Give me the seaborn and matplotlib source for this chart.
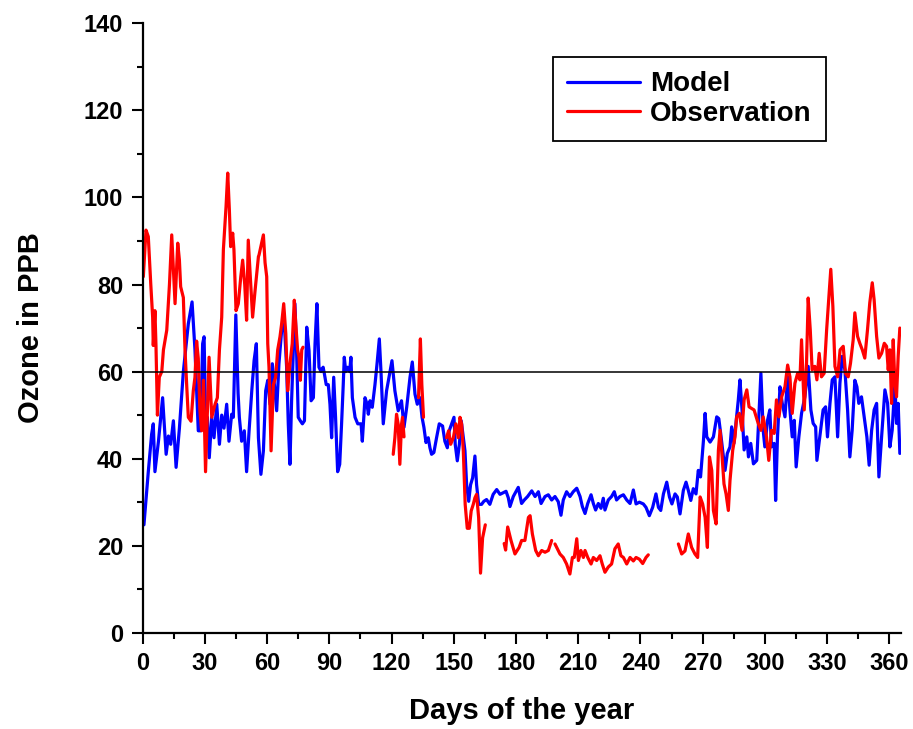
import numpy as np
import pandas as pd
import matplotlib
matplotlib.use('Agg')
import matplotlib.pyplot as plt
import seaborn as sns
from matplotlib.ticker import MultipleLocator
from matplotlib.lines import Line2D

# Model ozone (day of year, ppb)
model_day = [0.6, 2.7, 4.3, 5.1, 5.9, 7.6, 9.6, 11.3, 12.4, 13.5, 14.8, 16.1, 17.7, 19.6, 22.0, 23.8,
             25.2, 26.8, 27.9, 28.9, 29.6, 30.5, 31.2, 32.1, 33.3, 34.4, 35.7, 37.0, 38.1, 39.2, 40.5,
             41.6, 42.9, 43.7, 44.9, 46.0, 46.6, 47.7, 49.0, 50.1, 51.3, 52.6, 53.7, 54.8, 55.8, 57.0,
             58.2, 59.3, 60.3, 61.4, 62.5, 63.5, 64.6, 65.7, 67.0, 68.3, 69.4, 70.2, 71.0, 71.8, 72.6,
             73.4, 74.2, 75.0, 76.0, 77.0, 78.0, 79.1, 80.2, 81.2, 82.3, 83.1, 84.0, 85.0, 86.0, 87.0,
             87.6, 88.5, 89.5, 90.3, 91.1, 92.1, 93.0, 94.0, 95.0, 95.9, 96.7, 97.2, 97.9, 98.8, 99.8,
             100.4, 101.1, 102.4, 103.7, 105.3, 105.9, 107.2, 108.2, 108.8, 109.6, 110.7, 112.0, 113.0,
             114.1, 114.9, 116.0, 117.6, 120.2, 121.6, 123.2, 124.8, 126.0, 127.3, 128.9, 130.0, 131.3,
             132.4, 133.7, 134.7, 135.6, 136.6, 137.7, 138.5, 139.3, 140.4, 141.7, 143.0, 144.6, 145.7,
             146.9, 147.8, 149.0, 150.1, 150.7, 151.7, 152.7, 153.6, 154.6, 155.4, 156.2, 157.2, 158.1,
             159.1, 160.2, 161.0, 162.0, 163.4, 164.5, 165.8, 167.4, 169.0, 170.7, 172.3, 173.9, 175.2,
             176.3, 177.1, 178.7, 181.1, 182.7, 184.0, 185.6, 187.6, 189.2, 190.8, 192.1, 194.0, 195.6,
             197.2, 198.8, 200.4, 201.7, 202.8, 204.4, 206.0, 207.6, 209.3, 210.9, 212.0, 213.3, 214.6,
             216.2, 217.3, 218.4, 219.7, 221.0, 222.1, 222.9, 224.5, 226.1, 227.4, 228.5, 230.1, 231.8,
             233.4, 235.0, 236.6, 237.9, 239.5, 241.4, 242.7, 244.3, 245.9, 247.5, 248.7, 249.8, 251.1,
             252.7, 254.0, 255.2, 256.7, 257.8, 259.1, 260.7, 262.0, 263.1, 264.3, 265.5, 266.8, 267.9,
             269.0, 270.4, 271.2, 272.0, 273.6, 275.2, 276.8, 277.8, 278.7, 280.0, 280.8, 281.9, 283.2,
             284.0, 285.1, 286.4, 287.2, 288.0, 289.0, 290.0, 291.3, 292.1, 293.2, 294.5, 296.1, 296.8,
             298.1, 299.2, 300.0, 301.3, 302.4, 303.2, 304.5, 305.2, 306.1, 307.3, 308.4, 309.7, 311.0,
             312.1, 313.2, 314.2, 315.1, 316.4, 317.7, 319.3, 320.9, 322.2, 323.3, 324.5, 325.1, 326.5,
             328.1, 329.3, 330.2, 331.4, 332.5, 333.8, 335.1, 336.2, 337.3, 338.6, 339.9, 341.0, 342.1,
             343.4, 344.4, 345.3, 346.6, 347.9, 349.2, 350.3, 351.5, 352.7, 353.9, 355.0, 356.3, 357.9,
             359.2, 360.3, 361.4, 362.7, 363.5, 364.3, 365.1]
model_ppb = [24.8, 37, 45.6, 48, 37, 44, 54, 41, 45.2, 43.3, 48.7, 38, 47, 60, 71, 76,
             65, 46.4, 46.4, 66.4, 68, 44.8, 49.5, 40.2, 49.5, 44.8, 52.5, 43.3, 50, 47, 52.5,
             44, 50.2, 49.5, 73, 55, 49.5, 44, 46.4, 37, 46.4, 55.6, 62.5, 66.4, 44.8, 36.4,
             41.8, 55.6, 58, 52.5, 61.8, 57, 51, 61.8, 69.5, 71, 61, 48, 38.7, 53.3, 64.8,
             75.6, 64.8, 49.5, 48.7, 48, 48.7, 70.2, 64.8, 53.3, 54, 66.4, 75.6, 61, 60, 61,
             59.5, 57, 57, 52.5, 44.8, 58.7, 49.5, 37, 38.7, 48, 57, 63.3, 60, 61, 60,
             63.3, 54, 49.5, 48, 48, 44, 54, 52.5, 50.2, 53.3, 51.8, 57, 61.8,
             67.5, 60, 48, 55.6, 62.5, 55.6, 51, 53.3, 47.2, 51.8, 58.7, 62.2, 54.8,
             52.5, 54, 49.5, 47.2, 43.7, 44.8, 42.5, 41, 41.4, 44.8, 48, 47.5, 44,
             42.5, 46.4, 48, 49.5, 43.3, 39.5, 43.3, 48.7, 44.8, 41.8, 34, 30.2, 34,
             35.6, 40.6, 34, 29.5, 29.5, 30.2, 30.6, 29.5, 31.8, 32.9, 31.8, 32.2, 32.5,
             31, 29, 31.3, 33.4, 29.7, 30.5, 31.3, 32.6, 31.3, 32.4, 29.7, 31.3, 31.7,
             30.5, 31.3, 30.1, 27, 30.5, 32.4, 31.3, 32.4, 33.2, 31.3, 29, 27.4, 29.7,
             31.7, 29.7, 28.2, 29.7, 28.6, 30.9, 28.2, 30.5, 31.3, 32.4, 30.5, 31.3, 31.7,
             30.5, 29.7, 32.8, 29.6, 30, 29.6, 28.8, 26.9, 28.8, 31.9, 28.8, 28.1, 31.9,
             34.6, 31.2, 29.6, 31.9, 31.2, 27.3, 32.7, 34.6, 32.7, 30.4, 33.1, 31.9, 37.3,
             35.8, 44.2, 50.4, 45, 43.8, 45, 49.6, 49.2, 45.8, 40.4, 37.3, 41.2, 42.7,
             47.3, 43.5, 49.6, 53.5, 58.1, 51.2, 42, 45, 40.4, 43.5, 38.8, 39.6, 46.5,
             59.6, 46.5, 42.7, 48.8, 51.2, 42.7, 43.5, 30.4, 45, 56.5, 52.7, 49.6, 58.8,
             51.2, 45, 48.8, 38.1, 45, 50.4, 54.2, 61.2, 51.2, 48.1, 47.3, 39.6, 45,
             51.2, 51.9, 45, 52.7, 58.1, 58.8, 45, 57.3, 63.5, 60.4, 51.2, 40.4, 46.5,
             58, 56.5, 52.7, 54.2, 49.6, 45, 38.5, 46.5, 51.2, 52.7, 35.8, 45, 55.8,
             52.7, 42.7, 46.5, 57.3, 48.1, 52.7, 41.2]

# Observed ozone, split into the stretches with data
obs_segments = [
    ([0.3, 1.6, 2.7, 3.9, 4.8, 5.1, 5.9, 6.4, 7.1, 8.0, 9.2, 10.0, 11.6, 12.9, 14.0, 15.6, 16.9,
      17.7, 18.3, 19.6, 20.4, 21.2, 22.0, 23.3, 24.4, 25.2, 26.0, 26.8, 27.6, 28.4, 29.3, 30.3,
      32.0, 33.3, 34.9, 36.0, 37.0, 38.1, 38.9, 40.2, 41.0, 41.8, 42.4, 43.4, 44.0, 45.0, 46.1,
      47.3, 48.2, 49.2, 50.1, 50.9, 52.1, 53.0, 54.2, 55.8, 56.1, 58.2, 59.0, 59.8, 60.3, 60.9,
      61.9, 63.0, 64.1, 65.1, 66.2, 67.0, 68.0, 69.0, 69.9, 71.0, 72.1, 73.1, 73.8, 74.7, 75.4,
      76.0, 76.7, 77.3],
     [81.8, 92.5, 91, 80, 72.5, 66, 74, 66, 50, 58.7, 60, 65, 69.5, 80, 91.4, 75.6, 89.5,
      85.6, 79.5, 77, 65, 57, 49.5, 48.6, 55.6, 58.7, 67, 63, 51, 46.4, 58, 37,
      63.3, 49.5, 52.5, 54, 65, 72.5, 88, 98, 105.6, 97, 88.7, 91.8, 88, 74, 75.6,
      81.8, 85.6, 80, 71.8, 90.2, 80, 72.5, 78.7, 86.4, 86.8, 91.4, 85, 81.8, 66.4, 61,
      41.8, 57, 58.7, 65, 68, 71, 75.6, 68.7, 55.6, 61.8, 66.4, 76.4, 71, 65, 63.3,
      58, 65, 65.6]),
    ([120.8, 121.6, 122.4, 123.2, 124.0, 124.8, 125.3, 126.0],
     [41, 44.8, 50.2, 47.9, 38.7, 47.9, 49.5, 45]),
    ([133.0, 133.9, 134.6, 135.4],
     [54, 67.5, 57, 49.5]),
    ([146.5, 147.5, 148.5, 149.8, 151.0, 152.2, 153.0, 153.8, 154.6, 155.5, 156.5, 157.5, 158.4,
      159.4, 160.2, 161.0, 162.0, 162.9, 163.9, 165.2],
     [44.8, 46.4, 43.3, 44.8, 48, 44.8, 49.5, 47.9, 41.8, 29.5, 24, 24, 28,
      29.5, 31, 31.8, 26.4, 13.7, 21.8, 24.8]),
    ([174.3, 175.0, 176.0, 177.6, 179.5, 181.5, 182.7, 184.3, 186.0, 186.8, 187.9, 189.5, 190.8,
      192.4, 194.0, 195.6, 197.2],
     [20.5, 19, 24.3, 21.2, 18.1, 19.6, 21.2, 21.2, 26.5, 26.9, 22.7, 18.9, 17.7,
      18.9, 18.5, 18.9, 21.2]),
    ([198.8, 201.2, 202.8, 204.4, 206.0, 207.2, 208.1, 209.3, 210.1, 211.3, 212.5, 213.3, 214.6,
      216.2, 217.3, 218.9, 220.5, 221.6, 222.9, 224.5, 226.1, 227.7, 229.3, 230.6, 231.8, 233.4,
      235.0, 236.6, 237.9, 239.5, 241.1, 242.7, 243.8],
     [20.4, 18.1, 17.3, 15.8, 13.5, 17.3, 17.3, 21.6, 16.6, 18.9, 17.3, 18.9, 17.3,
      15.8, 17.3, 16.6, 17.7, 15.8, 13.9, 15.1, 15.8, 19.3, 20.4, 17.7, 17.3, 15.8,
      17.3, 16.5, 17.3, 16.9, 15.9, 17.3, 17.9]),
    ([258.3, 259.9, 261.5, 263.1, 264.7, 266.3, 267.6, 268.8, 270.0, 271.2, 272.3, 273.3, 274.4,
      275.2, 276.5, 277.6, 278.4, 279.4, 280.3, 281.3, 282.4, 283.2, 284.5, 285.6, 286.4, 287.7,
      289.0, 290.0, 291.3, 292.4, 293.7, 294.8, 296.8, 298.1, 299.2, 300.8, 301.9, 303.2, 304.5,
      305.6, 306.8, 308.1, 309.7, 311.0, 312.1, 313.2, 314.5, 315.8, 316.9, 317.7, 319.0, 320.1,
      320.9, 321.9, 322.8, 324.1, 325.1, 326.2, 327.3, 328.6, 329.8, 330.9, 331.8, 332.8, 333.8,
      335.1, 336.3, 337.8, 338.9, 340.2, 341.3, 342.6, 343.4, 344.7, 345.8, 347.0, 348.2, 349.5,
      350.6, 351.8, 352.7, 353.9, 355.0, 356.3, 357.6, 358.7, 359.5, 360.3, 361.1, 361.9, 362.7,
      363.5, 364.3, 365.1],
     [20.4, 18.1, 18.8, 22.7, 19.6, 18.1, 17.3, 31.2, 29.6, 26.5, 19.6, 40.4, 37.3,
      28.1, 25, 41.9, 46.5, 40.4, 34.2, 31.9, 28.1, 35, 41.9, 45, 49.6, 50.4,
      46.5, 53.5, 55.8, 51.9, 51.5, 51.2, 48.1, 46.5, 49.6, 45, 39.6, 46.5, 45.8,
      53.5, 49.6, 54.2, 56.5, 61.5, 58.8, 50.4, 57.3, 59.6, 58.1, 67.3, 51.2, 61.9,
      76.9, 69.6, 60.4, 61.2, 58.1, 64.2, 58.8, 59.6, 69.6, 77.3, 83.5, 75, 61.2,
      58.8, 65, 65.8, 59.6, 58.8, 61.9, 67.3, 73.5, 68.1, 66.5, 65, 63.1, 69.6,
      75.8, 80.4, 76.5, 68.1, 63.1, 64.2, 66.5, 65.8, 60.4, 65, 52.7, 67.3, 57.3,
      54.2, 63.5, 70]),
]

ref_level = 60
x_ticks = list(range(0, 361, 30))
y_ticks = list(range(0, 141, 20))

sns.set_style('ticks')
plt.rcParams['font.family'] = ['Liberation Sans', 'DejaVu Sans']
plt.rcParams['font.weight'] = 'bold'
plt.rcParams['text.color'] = 'black'
plt.rcParams['axes.labelcolor'] = 'black'
plt.rcParams['xtick.color'] = 'black'
plt.rcParams['ytick.color'] = 'black'

fig = plt.figure(figsize=(9.13, 7.29), dpi=100)
ax = fig.add_axes([0.1563, 0.132, 0.8302, 0.836])

df_model = pd.DataFrame({'day': model_day, 'ppb': model_ppb})
sns.lineplot(data=df_model, x='day', y='ppb', ax=ax, color='#0000ff',
             linewidth=2.3, sort=False, estimator=None)

rows = []
for i, (d, v) in enumerate(obs_segments):
    rows.append(pd.DataFrame({'day': d, 'ppb': v, 'seg': i}))
df_obs = pd.concat(rows, ignore_index=True)
sns.lineplot(data=df_obs, x='day', y='ppb', units='seg', estimator=None, ax=ax,
             color='#ff0000', linewidth=2.3, sort=False)

ax.hlines(ref_level, 0, 363, color='black', linewidth=1.1, zorder=3)

ax.set_xlim(0, 365.5)
ax.set_ylim(0, 140)
ax.set_xticks(x_ticks)
ax.set_yticks(y_ticks)
ax.xaxis.set_minor_locator(MultipleLocator(15))
ax.yaxis.set_minor_locator(MultipleLocator(10))
ax.tick_params(which='major', direction='out', length=8, width=1.5, labelsize=17, pad=6,
               color='black', labelcolor='black')
ax.tick_params(which='minor', direction='out', length=4.5, width=1.5, color='black')
for lab in ax.get_xticklabels() + ax.get_yticklabels():
    lab.set_fontweight('bold')

sns.despine(ax=ax)
for s in ['left', 'bottom']:
    ax.spines[s].set_linewidth(1.6)
    ax.spines[s].set_color('black')

ax.set_xlabel('Days of the year', fontsize=21, fontweight='bold', labelpad=16)
ax.set_ylabel('Ozone in PPB', fontsize=21, fontweight='bold', labelpad=28)

handles = [Line2D([], [], color='#0000ff', linewidth=2.3),
           Line2D([], [], color='#ff0000', linewidth=2.3)]
leg = ax.legend(handles, ['Model', 'Observation'], loc='upper left',
                bbox_to_anchor=(0.541, 0.944), borderaxespad=0, frameon=True,
                fancybox=False, edgecolor='black', framealpha=1,
                prop={'size': 20, 'weight': 'bold'}, handlelength=2.65,
                handletextpad=0.35, labelspacing=0.12, borderpad=0.5)
leg.get_frame().set_linewidth(1.3)

fig.savefig('out.png', dpi=100)
